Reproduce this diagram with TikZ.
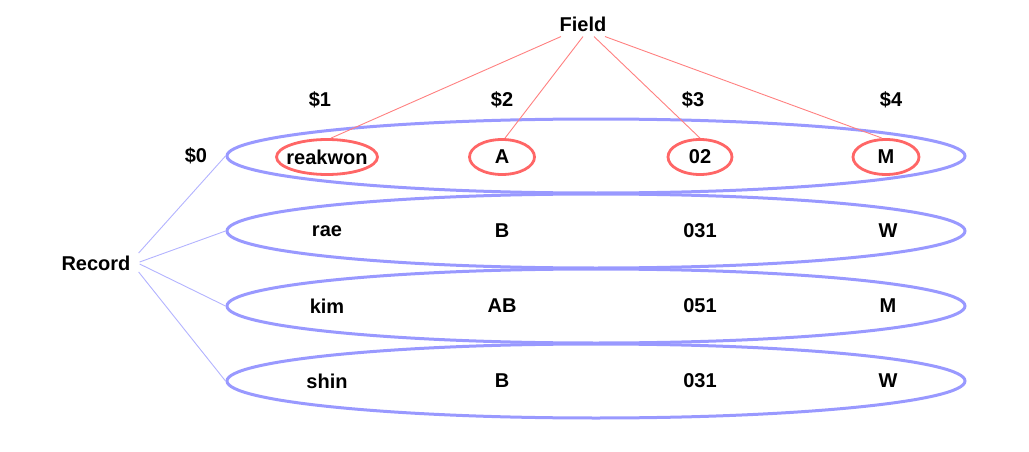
\documentclass[tikz,border=0pt]{standalone}
\usepackage{fontspec}
\setmainfont{Liberation Sans}
\usetikzlibrary{shapes.geometric}
\definecolor{recblue}{HTML}{9999FF}
\definecolor{reclink}{HTML}{B3B3FF}
\definecolor{fldred}{HTML}{FF6666}
\definecolor{fldlink}{HTML}{FF8080}
\tikzset{
  lbl/.style={font=\fontsize{20}{23}\selectfont\bfseries, inner sep=1pt},
  recell/.style={ellipse, draw=recblue, line width=3pt, minimum width=738pt, minimum height=74pt, inner sep=0pt},
  fldell/.style={ellipse, draw=fldred, line width=2.8pt, inner sep=0pt, minimum height=35pt, font=\fontsize{20}{23}\selectfont\bfseries},
  fldline/.style={draw=fldlink, line width=0.9pt},
  recline/.style={draw=reclink, line width=0.9pt},
}
\begin{document}
\begin{tikzpicture}[x=1pt,y=-1pt]
\useasboundingbox (0,0) rectangle (1029,452);
% record ellipses
\node[recell] (r1) at (596,156) {};
\node[recell] (r2) at (596,231) {};
\node[recell] (r3) at (596,306) {};
\node[recell] (r4) at (596,381) {};
% headers
\node[lbl] (field) at (583,24) {Field};
\node[lbl] (d1) at (320,100) {\$1};
\node[lbl] (d2) at (502,100) {\$2};
\node[lbl] (d3) at (693,100) {\$3};
\node[lbl] (d4) at (891,100) {\$4};
\node[lbl] (d0) at (196,156) {\$0};
\node[lbl] (rec) at (96,263) {Record};
% row 1 fields
\node[fldell, minimum width=101pt, inner xsep=-7pt] (c1) at (327,157) {reakwon};
\node[fldell, minimum width=65pt] (c2) at (502,157) {A};
\node[fldell, minimum width=64pt] (c3) at (700,157) {02};
\node[fldell, minimum width=66pt] (c4) at (886,157) {M};
% other rows
\node[lbl] (a2) at (327,231) {rae};
\node[lbl] (b2) at (502,231) {B};
\node[lbl] (e2) at (700,231) {031};
\node[lbl] (f2) at (888,231) {W};
\node[lbl] (a3) at (327,306) {kim};
\node[lbl] (b3) at (502,306) {AB};
\node[lbl] (e3) at (700,306) {051};
\node[lbl] (f3) at (888,306) {M};
\node[lbl] (a4) at (327,381) {shin};
\node[lbl] (b4) at (502,381) {B};
\node[lbl] (e4) at (700,381) {031};
\node[lbl] (f4) at (888,381) {W};
% field connectors
\draw[fldline] ([xshift=-22pt,yshift=-4pt]field.south) -- ([xshift=4pt]c1.north);
\draw[fldline] ([xshift=0pt,yshift=-4pt]field.south) -- ([xshift=3pt]c2.north);
\draw[fldline] ([xshift=11pt,yshift=-4pt]field.south) -- (c3.north);
\draw[fldline] ([xshift=22pt,yshift=-4pt]field.south) -- ([xshift=-4pt]c4.north);
% record connectors
\draw[recline] ([xshift=7pt,yshift=10pt]rec.east) -- (r1.west);
\draw[recline] ([xshift=8pt,yshift=1pt]rec.east) -- (r2.west);
\draw[recline] ([xshift=8pt,yshift=-1pt]rec.east) -- (r3.west);
\draw[recline] ([xshift=7pt,yshift=-9pt]rec.east) -- (r4.west);
\end{tikzpicture}
\end{document}
